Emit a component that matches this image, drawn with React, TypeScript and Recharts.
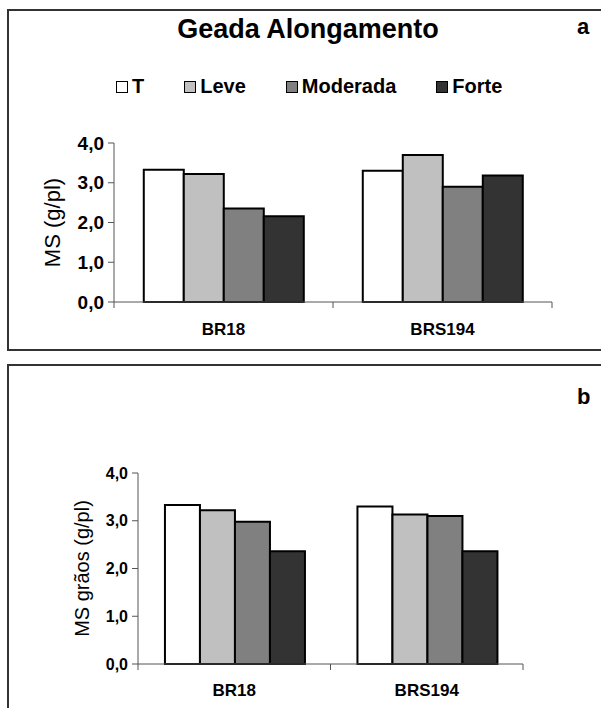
import React from "react";
import { BarChart, Bar, XAxis, YAxis, Legend } from "recharts";

const cultivares = ["BR18", "BRS194"];
const tratamentos = ["T", "Leve", "Moderada", "Forte"];
const cores = ["#ffffff", "#c0c0c0", "#808080", "#333333"];

// a: MS (g/pl)
const msT = [3.33, 3.3];
const msLeve = [3.22, 3.7];
const msModerada = [2.35, 2.9];
const msForte = [2.16, 3.18];

// b: MS grãos (g/pl)
const graosT = [3.33, 3.3];
const graosLeve = [3.22, 3.13];
const graosModerada = [2.98, 3.1];
const graosForte = [2.36, 2.36];

const yTicks = [0, 1, 2, 3, 4];

const FONT = "'Liberation Sans', Arial, Helvetica, sans-serif";
const AXIS = "#555";
const TICK = 6;

const buildRows = (series: number[][]) =>
  cultivares.map((name, i) => {
    const row: Record<string, number | string> = { name };
    tratamentos.forEach((t, k) => {
      row[t] = series[k][i];
    });
    return row;
  });

const fmt = (v: number) => v.toFixed(1).replace(".", ",");

// legend drawn in the original series order (recharts sorts by name otherwise)
const LegendBox = () => (
  <div style={{ display: "flex", paddingLeft: 116, fontFamily: FONT }}>
    {tratamentos.map((t, k) => (
      <div key={t} style={{ display: "flex", alignItems: "center", marginRight: 40 }}>
        <span
          style={{
            width: 10,
            height: 10,
            background: cores[k],
            border: "1.5px solid #000",
            marginRight: 4,
            display: "inline-block",
          }}
        />
        <span style={{ fontSize: 20, fontWeight: "bold", color: "#000" }}>{t}</span>
      </div>
    ))}
  </div>
);

// category label, plus excel-style tick marks on the band edges
const CatTick = (props: any) => {
  const { x, y, payload, index, visibleTicksCount, width, gapBelow } = props;
  const half = payload.offset != null && payload.offset > 0 ? payload.offset : width / visibleTicksCount / 2;
  const axisY = y - TICK - gapBelow;
  return (
    <g>
      <line x1={x - half} x2={x - half} y1={axisY} y2={axisY + TICK} stroke={AXIS} />
      {index === visibleTicksCount - 1 && (
        <line x1={x + half} x2={x + half} y1={axisY} y2={axisY + TICK} stroke={AXIS} />
      )}
      <text
        x={x}
        y={y}
        dy="0.71em"
        textAnchor="middle"
        fill="#000"
        fontSize={17}
        fontWeight="bold"
        fontFamily={FONT}
      >
        {payload.value}
      </text>
    </g>
  );
};

interface PanelProps {
  data: Record<string, number | string>[];
  width: number;
  height: number;
  margin: { top: number; right: number; bottom: number; left: number };
  yWidth: number;
  yLabel: string;
  yLabelOffset: number;
  yLabelSize: number;
  tickSize: number;
  gap: string;
  catMargin: number;
  withLegend?: boolean;
}

const Panel: React.FC<PanelProps> = (p) => (
  <BarChart
    width={p.width}
    height={p.height}
    data={p.data}
    margin={p.margin}
    barGap={0}
    barCategoryGap={p.gap}
  >
    <XAxis
      dataKey="name"
      height={40}
      stroke={AXIS}
      tickLine={false}
      tickSize={TICK}
      tickMargin={p.catMargin}
      tick={<CatTick gapBelow={p.catMargin} />}
    />
    <YAxis
      type="number"
      domain={[0, 4]}
      ticks={yTicks}
      width={p.yWidth}
      tickSize={TICK}
      tickMargin={4}
      stroke={AXIS}
      tickFormatter={fmt}
      tick={{ fill: "#000", fontSize: p.tickSize, fontWeight: "bold", fontFamily: FONT }}
      label={{
        value: p.yLabel,
        angle: -90,
        position: "insideLeft",
        offset: p.yLabelOffset,
        style: { textAnchor: "middle", fontSize: p.yLabelSize, fontFamily: FONT, fill: "#000" },
      }}
    />
    {p.withLegend && (
      <Legend
        layout="horizontal"
        verticalAlign="middle"
        align="center"
        content={<LegendBox />}
        wrapperStyle={{ top: 75, left: 0, width: 601 }}
      />
    )}
    {tratamentos.map((t, k) => (
      <Bar
        key={t}
        dataKey={t}
        fill={cores[k]}
        stroke="#000"
        strokeWidth={2}
        isAnimationActive={false}
      />
    ))}
  </BarChart>
);

export default function App() {
  const dataA = buildRows([msT, msLeve, msModerada, msForte]);
  const dataB = buildRows([graosT, graosLeve, graosModerada, graosForte]);
  return (
    <div
      style={{
        position: "absolute",
        left: 0,
        top: 0,
        width: 601,
        height: 708,
        overflow: "hidden",
        background: "#fff",
        fontFamily: FONT,
      }}
    >
      <div
        style={{
          position: "absolute",
          left: 7,
          top: 9,
          width: 620,
          height: 342,
          border: "2px solid #333",
          boxSizing: "border-box",
        }}
      />
      <div
        style={{
          position: "absolute",
          left: 7,
          top: 364,
          width: 620,
          height: 380,
          border: "2px solid #333",
          boxSizing: "border-box",
        }}
      />
      <div style={{ position: "absolute", left: 0, top: 0 }}>
        <Panel
          data={dataA}
          width={601}
          height={360}
          margin={{ top: 143, right: 49, bottom: 18, left: 0 }}
          yWidth={114}
          yLabel="MS (g/pl)"
          yLabelOffset={52}
          yLabelSize={22}
          tickSize={19}
          gap="13.6%"
          catMargin={15}
          withLegend
        />
      </div>
      <div style={{ position: "absolute", left: 0, top: 360 }}>
        <Panel
          data={dataB}
          width={601}
          height={348}
          margin={{ top: 113, right: 78, bottom: 4, left: 0 }}
          yWidth={138}
          yLabel="MS grãos (g/pl)"
          yLabelOffset={82}
          yLabelSize={20}
          tickSize={16}
          gap="14%"
          catMargin={14}
        />
      </div>
      <div
        style={{
          position: "absolute",
          left: 0,
          width: 616,
          top: 14,
          textAlign: "center",
          fontSize: 27,
          fontWeight: "bold",
        }}
      >
        Geada Alongamento
      </div>
      <div style={{ position: "absolute", left: 577, top: 14, fontSize: 22, fontWeight: "bold" }}>a</div>
      <div style={{ position: "absolute", left: 577, top: 384, fontSize: 22, fontWeight: "bold" }}>b</div>
    </div>
  );
}
